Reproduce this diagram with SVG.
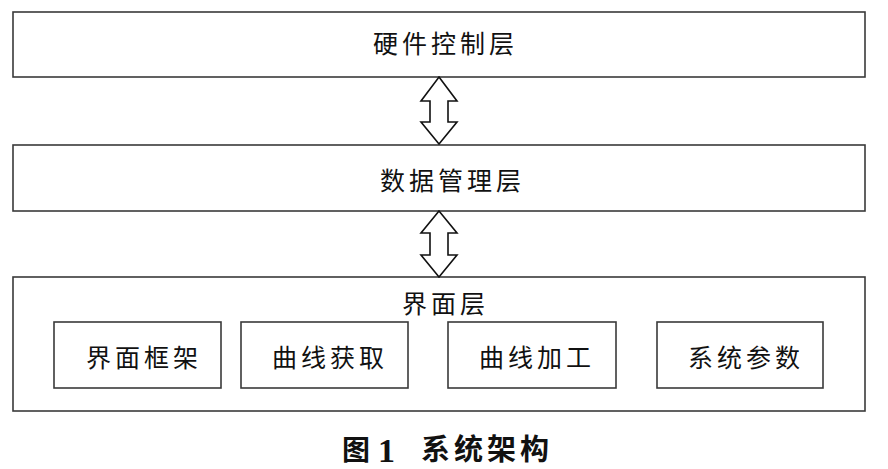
<svg xmlns="http://www.w3.org/2000/svg" width="888" height="469" viewBox="0 0 888 469">
<style>
.box{fill:#fff;stroke:#3a3a3a;stroke-width:1.6}
.t{font-family:"Noto Sans CJK SC","Noto Sans",sans-serif;font-size:25px;fill:#111;letter-spacing:4px}
.arr{fill:#fff;stroke:#111;stroke-width:1.6;stroke-linejoin:miter}
.cap{font-family:"Noto Sans CJK SC",sans-serif;font-size:28px;font-weight:bold;fill:#111}
</style>
<rect width="888" height="469" fill="#fff"/>
<g id="hw">
<rect class="box" x="13" y="12" width="852" height="65"/>
<text class="t" x="373" y="53">硬件控制层</text>
</g>
<g id="data">
<rect class="box" x="13" y="145" width="852" height="66"/>
<text class="t" x="380" y="190">数据管理层</text>
</g>
<g id="ui">
<rect class="box" x="13" y="277" width="852" height="134"/>
<text class="t" x="402" y="313">界面层</text>
</g>
<g id="ui-frame">
<rect class="box" x="54" y="322" width="167" height="66"/>
<text class="t" x="86" y="367">界面框架</text>
</g>
<g id="curve-get">
<rect class="box" x="241" y="322" width="167" height="66"/>
<text class="t" x="272" y="367">曲线获取</text>
</g>
<g id="curve-proc">
<rect class="box" x="448" y="322" width="168" height="66"/>
<text class="t" x="479" y="367">曲线加工</text>
</g>
<g id="sys-param">
<rect class="box" x="657" y="322" width="166" height="66"/>
<text class="t" x="688" y="367">系统参数</text>
</g>
<g id="connectors">
<path class="arr" d="M439,77 L457,101 L448,101 L448,122 L457,122 L439,144 L421,122 L430,122 L430,101 L421,101 Z"/>
<path class="arr" d="M439,211 L457,233 L448,233 L448,255 L457,255 L439,277 L421,255 L430,255 L430,233 L421,233 Z"/>
</g>
<g id="caption">
<text class="cap" x="342" y="460">图</text>
<text x="378" y="462" style="font-family:'Liberation Serif',serif;font-size:34px;font-weight:bold;fill:#111">1</text>
<text class="cap" x="421" y="460" style="font-size:29px;letter-spacing:4px">系统架构</text>
</g>
</svg>
